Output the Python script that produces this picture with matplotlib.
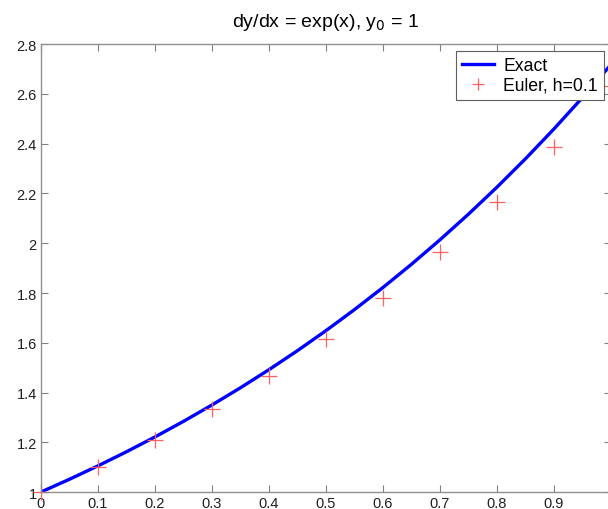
import numpy as np
import matplotlib.pyplot as plt

plt.rcParams['font.family'] = ['Liberation Sans', 'DejaVu Sans']

# exact solution y = exp(x), read at 0.05 steps
x_exact = [0.0, 0.05, 0.1, 0.15, 0.2, 0.25, 0.3, 0.35, 0.4, 0.45, 0.5,
           0.55, 0.6, 0.65, 0.7, 0.75, 0.8, 0.85, 0.9, 0.95, 1.0]
y_exact = [1.0, 1.0513, 1.1052, 1.1618, 1.2214, 1.2840, 1.3499, 1.4191,
           1.4918, 1.5683, 1.6487, 1.7333, 1.8221, 1.9155, 2.0138, 2.1170,
           2.2255, 2.3396, 2.4596, 2.5857, 2.7183]

# Euler points, h = 0.1
x_euler = [0.0, 0.1, 0.2, 0.3, 0.4, 0.5, 0.6, 0.7, 0.8, 0.9, 1.0]
y_euler = [1.0, 1.1, 1.2105, 1.3326, 1.4676, 1.6168, 1.7817, 1.9639,
           2.1653, 2.3878, 2.6338]

xticks = [0, 0.1, 0.2, 0.3, 0.4, 0.5, 0.6, 0.7, 0.8, 0.9, 1.0]
xlabels = ['0', '0.1', '0.2', '0.3', '0.4', '0.5', '0.6', '0.7', '0.8', '0.9', '1']
yticks = [1, 1.2, 1.4, 1.6, 1.8, 2, 2.2, 2.4, 2.6, 2.8]
ylabels = ['1', '1.2', '1.4', '1.6', '1.8', '2', '2.2', '2.4', '2.6', '2.8']

fig = plt.figure(figsize=(6.08, 5.10), dpi=100)
ax = fig.add_axes([0.0674, 0.0333, 0.9375, 0.878])

ax.plot(x_exact, y_exact, color='#0000ff', lw=2.4, label='Exact')
ax.plot(x_euler, y_euler, '+', color='#ff6060', ms=11.5, mew=0.9,
        label='Euler, h=0.1', clip_on=False)

ax.set_xlim(0, 1)
ax.set_ylim(1, 2.8)
ax.set_xticks(xticks)
ax.set_xticklabels(xlabels)
ax.set_yticks(yticks)
ax.set_yticklabels(ylabels)
ax.tick_params(direction='in', length=5, color='#808080', labelsize=10.5,
               labelcolor='#202020', top=True, right=True, pad=3)
for s in ax.spines.values():
    s.set_color('#909090')
    s.set_linewidth(1)

ax.set_title('dy/dx = exp(x), y$_0$ = 1', fontsize=14, pad=13)

leg = ax.legend(loc='upper right', bbox_to_anchor=(604 / 608, 458 / 510),
                bbox_transform=fig.transFigure, fancybox=False, framealpha=1,
                edgecolor='#606060', fontsize=12.7, handlelength=1.8,
                handletextpad=0.55, borderaxespad=0, borderpad=0.35,
                labelspacing=0.15, markerscale=0.8)
leg.get_frame().set_linewidth(0.8)

fig.savefig('out.png', dpi=100)
